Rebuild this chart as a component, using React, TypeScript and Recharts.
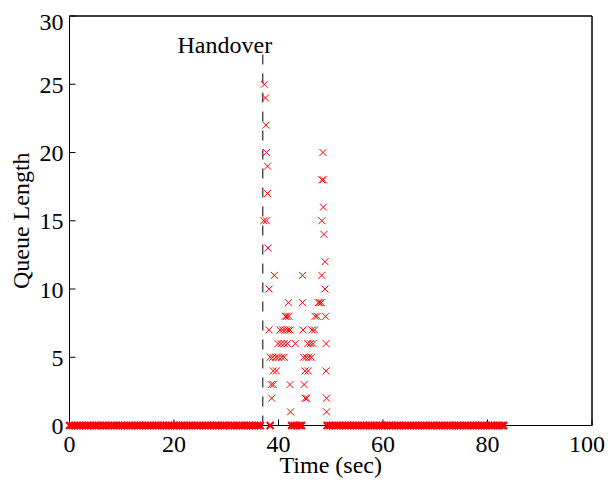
import { ScatterChart, Scatter, XAxis, YAxis, ReferenceLine } from 'recharts';

// queue length 0: sample times (sec) where the queue was empty
const idleBefore = [
  0, 0.5, 1, 1.5, 2, 2.5, 3, 3.5, 4, 4.5, 5, 5.5, 6, 6.5, 7, 7.5, 8, 8.5, 9, 9.5,
  10, 10.5, 11, 11.5, 12, 12.5, 13, 13.5, 14, 14.5, 15, 15.5, 16, 16.5, 17, 17.5, 18, 18.5, 19, 19.5,
  20, 20.5, 21, 21.5, 22, 22.5, 23, 23.5, 24, 24.5, 25, 25.5, 26, 26.5, 27, 27.5, 28, 28.5, 29, 29.5,
  30, 30.5, 31, 31.5, 32, 32.5, 33, 33.5, 34, 34.5, 35, 35.5, 36, 36.5,
];
const idleDuring = [38.4, 42.5, 43, 43.5, 44, 44.4];
const idleAfter = [
  49.3, 49.8, 50.3, 50.8, 51.3, 51.8, 52.3, 52.8, 53.3, 53.8, 54.3, 54.8, 55.3, 55.8, 56.3, 56.8,
  57.3, 57.8, 58.3, 58.8, 59.3, 59.8, 60.3, 60.8, 61.3, 61.8, 62.3, 62.8, 63.3, 63.8, 64.3, 64.8,
  65.3, 65.8, 66.3, 66.8, 67.3, 67.8, 68.3, 68.8, 69.3, 69.8, 70.3, 70.8, 71.3, 71.8, 72.3, 72.8,
  73.3, 73.8, 74.3, 74.8, 75.3, 75.8, 76.3, 76.8, 77.3, 77.8, 78.3, 78.8, 79.3, 79.8, 80.3, 80.8,
  81.3, 81.8, 82.3, 82.8, 83.1,
];

// non-empty queue samples around the handover
const burstTime = [
  37.3, 37.5, 37.6, 37.7, 48.5, 37.9, 48.3, 48.6, 37.9, 48.6,
  37.2, 37.7, 48.3, 48.7, 38.0, 48.9, 39.2, 44.6, 48.3, 38.2, 48.9,
  41.9, 44.6, 47.6, 47.9, 48.2,
  41.3, 41.6, 42.0, 47.0, 47.4, 49.0,
  38.2, 40.3, 40.8, 41.3, 41.8, 42.2, 44.7, 46.4, 46.9,
  39.9, 40.5, 41.1, 41.7, 43.2, 45.6, 46.1, 46.6, 49.1,
  38.4, 38.9, 39.5, 40.0, 40.6, 41.1, 44.8, 45.3, 45.8, 46.3,
  39.0, 39.6, 45.1, 45.7, 49.1,
  38.6, 39.0, 42.2, 44.9,
  38.7, 45.1, 45.4, 49.2,
  42.3, 49.2,
];
const burstQueue = [
  25, 24, 22, 20, 20, 19, 18, 18, 17, 16,
  15, 15, 15, 14, 13, 12, 11, 11, 11, 10, 10,
  9, 9, 9, 9, 9,
  8, 8, 8, 8, 8, 8,
  7, 7, 7, 7, 7, 7, 7, 7, 7,
  6, 6, 6, 6, 6, 6, 6, 6, 6,
  5, 5, 5, 5, 5, 5, 5, 5, 5, 5,
  4, 4, 4, 4, 4,
  3, 3, 3, 3,
  2, 2, 2, 2,
  1, 1,
];

const xTicks = [0, 20, 40, 60, 80, 100];
const yTicks = [0, 5, 10, 15, 20, 25, 30];
const handoverTime = 37;

const idleData = [...idleBefore, ...idleDuring, ...idleAfter].map((t) => ({ t, q: 0 }));
const burstData = burstTime.map((t, i) => ({ t, q: burstQueue[i] }));

const FONT = "'Liberation Serif', 'Times New Roman', serif";

const Cross = (props: any) => {
  const { cx, cy } = props;
  const s = 3.5;
  return (
    <path
      d={`M${cx - s},${cy - s}L${cx + s},${cy + s}M${cx - s},${cy + s}L${cx + s},${cy - s}`}
      stroke="#ff0000"
      strokeWidth={props.sw || 1}
      fill="none"
    />
  );
};

export default function App() {
  const tickStyle = { fill: '#000', fontSize: 24, fontFamily: FONT };
  return (
    <div style={{ width: 597, height: 471 }}>
      <ScatterChart width={597} height={471} margin={{ top: 7, right: 12, bottom: 0, left: 0 }}>
        <XAxis
          xAxisId={0}
          type="number"
          dataKey="t"
          domain={[0, 100]}
          ticks={xTicks}
          height={53.5}
          tickSize={-6}
          tickMargin={15}
          stroke="#000"
          tick={tickStyle}
          label={{ value: 'Time (sec)', position: 'insideBottom', offset: 6, style: { fill: '#000', fontSize: 24, fontFamily: FONT } }}
        />
        <XAxis
          xAxisId="top"
          orientation="top"
          type="number"
          domain={[0, 100]}
          ticks={xTicks}
          allowDataOverflow
          height={1}
          tickSize={-6}
          tick={false}
          stroke="#000"
        />
        <YAxis
          yAxisId={0}
          type="number"
          dataKey="q"
          domain={[0, 30]}
          ticks={yTicks}
          width={61.5}
          tickSize={-6}
          tickMargin={12}
          stroke="#000"
          tick={tickStyle}
          label={{ value: 'Queue Length', angle: -90, position: 'insideLeft', offset: 12.5, style: { fill: '#000', fontSize: 24, fontFamily: FONT, textAnchor: 'middle' } }}
        />
        <YAxis
          yAxisId="right"
          orientation="right"
          type="number"
          domain={[0, 30]}
          ticks={yTicks}
          allowDataOverflow
          width={1}
          tickSize={-6}
          tick={false}
          stroke="#000"
        />
        <ReferenceLine y={30} stroke="#000" ifOverflow="visible" />
        <ReferenceLine x={100} stroke="#000" ifOverflow="visible" />
        <ReferenceLine
          segment={[{ x: handoverTime, y: 0 }, { x: handoverTime, y: 27.6 }]}
          stroke="#000"
          strokeDasharray="10 9"
          ifOverflow="visible"
          label={{ value: 'Handover', position: 'top', offset: -4, dx: -38, style: { fill: '#000', fontSize: 24, fontFamily: FONT } }}
        />
        <Scatter data={idleData} isAnimationActive={false} shape={(p: any) => <Cross {...p} sw={2} />} />
        <Scatter data={burstData} isAnimationActive={false} shape={(p: any) => <Cross {...p} />} />
      </ScatterChart>
    </div>
  );
}
